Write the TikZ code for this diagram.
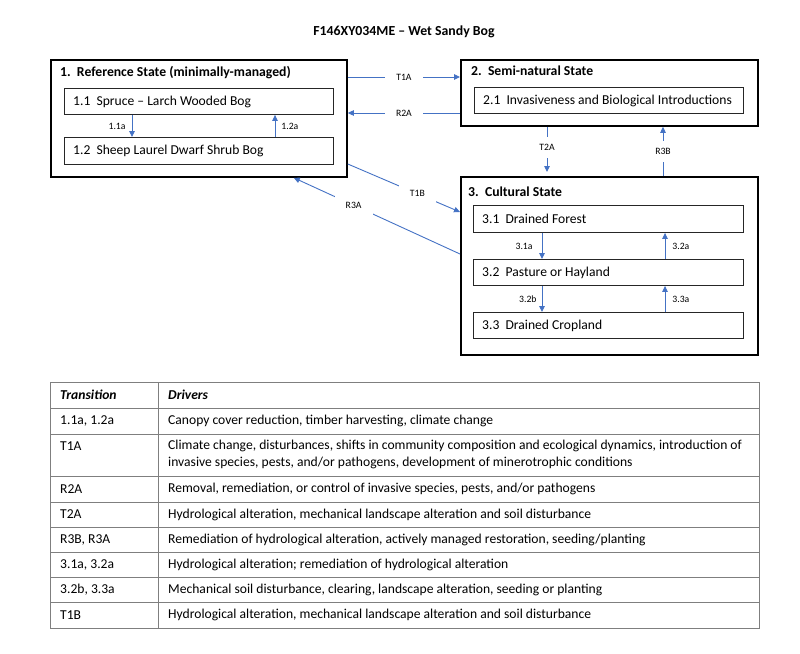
\documentclass[tikz,border=0pt]{standalone}
\usepackage{fontspec}
\setmainfont{Carlito}
\usetikzlibrary{arrows.meta}
\definecolor{arrblue}{HTML}{4472C4}
\definecolor{tblgray}{HTML}{7F7F7F}
\begin{document}
\begin{tikzpicture}[x=1pt,y=-1pt,
 statebox/.style={draw=black,line width=1.8pt,inner sep=0pt,anchor=north west},
 inbox/.style={draw=black!85,line width=0.9pt,inner sep=0pt,anchor=north west,minimum width=269pt,minimum height=26pt},
 txt/.style={font=\fontsize{13.6}{17}\selectfont,inner sep=0pt,anchor=west},
 ttl/.style={font=\bfseries\fontsize{13.7}{16}\selectfont,inner sep=0pt,anchor=west},
 thead/.style={font=\bfseries\itshape\fontsize{13.6}{16}\selectfont,inner sep=0pt,anchor=west},
 arr/.style={draw=arrblue,line width=0.9pt,-{Triangle[length=6pt,width=5.5pt]}},
 lbl/.style={font=\fontsize{9.7}{11}\selectfont,fill=white,inner xsep=11pt,inner ysep=7pt},
 slbl/.style={font=\fontsize{9.7}{11}\selectfont,inner sep=0pt},
 tline/.style={draw=tblgray,line width=0.9pt}]
\useasboundingbox (0,0) rectangle (800,653);
\node[font=\bfseries\fontsize{13.8}{16}\selectfont] (title) at (404,32) {F146XY034ME – Wet Sandy Bog};
% state boxes
\node[statebox,minimum width=296pt,minimum height=117pt] (s1) at (50,59) {};
\node[statebox,minimum width=297pt,minimum height=66pt] (s2) at (460,59) {};
\node[statebox,minimum width=297pt,minimum height=178pt] (s3) at (460,176) {};
\node[ttl] (t1) at (60,73) {1.\ \ Reference State (minimally-managed)};
\node[ttl] (t2) at (471,71) {2.\ \ Semi-natural State};
\node[ttl] (t3) at (468,192) {3.\ \ Cultural State};
% inner boxes
\node[inbox] (b11) at (64,88) {};
\node[inbox,minimum height=27pt] (b12) at (64,137) {};
\node[inbox] (b21) at (474,87) {};
\node[inbox,minimum width=270pt,minimum height=27pt] (b31) at (473,205) {};
\node[inbox,minimum width=270pt] (b32) at (473,259) {};
\node[inbox,minimum width=270pt] (b33) at (473,312) {};
\node[txt] (x11) at ([xshift=9pt]b11.west) {1.1\ \ Spruce – Larch Wooded Bog};
\node[txt] (x12) at ([xshift=9pt]b12.west) {1.2\ \ Sheep Laurel Dwarf Shrub Bog};
\node[txt] (x21) at ([xshift=9pt]b21.west) {2.1\ \ Invasiveness and Biological Introductions};
\node[txt] (x31) at ([xshift=9pt]b31.west) {3.1\ \ Drained Forest};
\node[txt] (x32) at ([xshift=9pt]b32.west) {3.2\ \ Pasture or Hayland};
\node[txt] (x33) at ([xshift=9pt]b33.west) {3.3\ \ Drained Cropland};
% state transitions
\draw[arr] ([yshift=-18pt]s1.north east) -- node[lbl]{T1A} ([yshift=-18pt]s2.north west);
\draw[arr] ([yshift=-54pt]s2.north west) -- node[lbl]{R2A} ([yshift=-54pt]s1.north east);
\draw[arr,shorten >=4pt] ([xshift=87pt]s2.south west) -- node[lbl,pos=0.42]{T2A} ([xshift=87pt]s3.north west);
\draw[arr] ([xshift=203pt]s3.north west) -- node[lbl]{R3B} ([xshift=203pt]s2.south west);
\draw[arr] ([yshift=-105pt]s1.north east) -- node[lbl,pos=0.62]{T1B} ([yshift=-36pt]s3.north west);
\draw[arr] ([yshift=-78pt]s3.north west) -- node[lbl,pos=0.64]{R3A} ([xshift=-54pt]s1.south east);
% community transitions
\draw[arr] ([xshift=68pt]b11.south west) -- node[slbl,left=6pt]{1.1a} ([xshift=68pt]b12.north west);
\draw[arr] ([xshift=211pt]b12.north west) -- node[slbl,right=6pt]{1.2a} ([xshift=211pt]b11.south west);
\draw[arr] ([xshift=69pt]b31.south west) -- node[slbl,left=9pt]{3.1a} ([xshift=69pt]b32.north west);
\draw[arr] ([xshift=192pt]b32.north west) -- node[slbl,right=7pt]{3.2a} ([xshift=192pt]b31.south west);
\draw[arr] ([xshift=69pt]b32.south west) -- node[slbl,left=5pt]{3.2b} ([xshift=69pt]b33.north west);
\draw[arr] ([xshift=192pt]b33.north west) -- node[slbl,right=7pt]{3.3a} ([xshift=192pt]b32.south west);
% table
\draw[tline] (50,382) rectangle (759,628);
\draw[tline] (158,382) -- (158,628);
\foreach \yy in {408,434,476,502,527,552,577,602} \draw[tline] (50,\yy) -- (759,\yy);
\node[thead] (h1) at (60,395) {Transition};
\node[thead] (h2) at (168,395) {Drivers};
\node[txt] (r1a) at (60,421) {1.1a, 1.2a};
\node[txt] (r1b) at (168,421) {Canopy cover reduction, timber harvesting, climate change};
\node[txt] (r2a) at (60,446) {T1A};
\node[txt,align=left] (r2b) at (168,454.5) {Climate change, disturbances, shifts in community composition and ecological dynamics, introduction of\\invasive species, pests, and/or pathogens, development of minerotrophic conditions};
\node[txt] (r3a) at (60,489) {R2A};
\node[txt] (r3b) at (168,489) {Removal, remediation, or control of invasive species, pests, and/or pathogens};
\node[txt] (r4a) at (60,514.5) {T2A};
\node[txt] (r4b) at (168,514.5) {Hydrological alteration, mechanical landscape alteration and soil disturbance};
\node[txt] (r5a) at (60,539.5) {R3B, R3A};
\node[txt] (r5b) at (168,539.5) {Remediation of hydrological alteration, actively managed restoration, seeding/planting};
\node[txt] (r6a) at (60,564.5) {3.1a, 3.2a};
\node[txt] (r6b) at (168,564.5) {Hydrological alteration; remediation of hydrological alteration};
\node[txt] (r7a) at (60,589.5) {3.2b, 3.3a};
\node[txt] (r7b) at (168,589.5) {Mechanical soil disturbance, clearing, landscape alteration, seeding or planting};
\node[txt] (r8a) at (60,615) {T1B};
\node[txt] (r8b) at (168,615) {Hydrological alteration, mechanical landscape alteration and soil disturbance};
\end{tikzpicture}
\end{document}
